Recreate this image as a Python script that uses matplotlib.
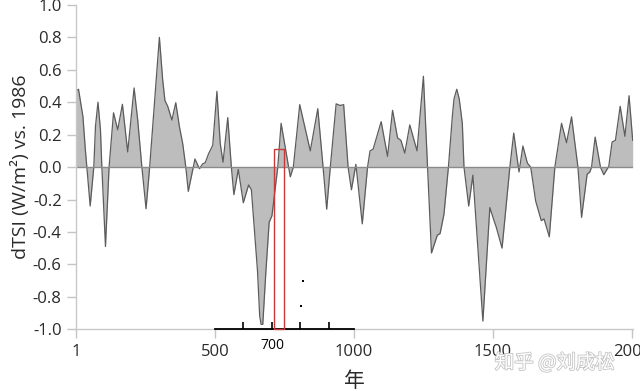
import matplotlib
matplotlib.use('Agg')
import matplotlib.pyplot as plt
import matplotlib.patheffects as pe
from matplotlib.patches import Rectangle

plt.rcParams['font.family'] = ['Open Sans', 'Noto Sans CJK SC', 'DejaVu Sans']

# solar irradiance anomaly (year, W/m2 vs 1986)
years = [1, 9, 25, 33, 39, 51, 64, 70, 79, 88, 93, 106, 119, 135, 150, 167,
         186, 209, 222, 237, 252, 265, 282, 300, 312, 320, 330, 345, 359, 372,
         384, 395, 404, 417, 428, 444, 456, 465, 477, 492, 507, 519, 529, 546,
         559, 568, 584, 602, 621, 631, 641,
         653, 661, 666, 672, 683, 695, 705, 713, 726, 738, 771, 782, 805, 843,
         870, 889, 902, 915, 936, 950, 963, 967, 979, 991, 1007, 1030, 1049,
         1058, 1069, 1098, 1121, 1139, 1157, 1169, 1183, 1201, 1227, 1250, 1265,
         1279, 1300, 1310, 1324, 1340, 1354, 1360, 1370, 1379, 1390, 1396, 1413,
         1428, 1464, 1489, 1504, 1512, 1533, 1561, 1575, 1594, 1608, 1624, 1636,
         1654, 1674, 1684, 1703, 1723, 1747, 1765, 1783, 1806, 1819, 1839, 1849,
         1855, 1868, 1887, 1899, 1917, 1929, 1941, 1958, 1975, 1990, 2003]
dtsi = [0.47, 0.48, 0.31, 0.12, 0.0, -0.24, 0.0, 0.25, 0.40, 0.23, 0.0, -0.49,
        0.0, 0.335, 0.23, 0.387, 0.093, 0.488, 0.29, 0.0, -0.257, 0.0, 0.39,
        0.80, 0.535, 0.41, 0.375, 0.29, 0.397, 0.25, 0.144, 0.0, -0.15, -0.04,
        0.05, -0.01, 0.02, 0.027, 0.082, 0.134, 0.467, 0.144, 0.03, 0.305, 0.0,
        -0.17, -0.015, -0.22, -0.11, -0.14, -0.37, -0.64,
        -0.92, -0.97, -0.97, -0.65, -0.34, -0.30, -0.185, 0.0, 0.27, -0.06, 0.0,
        0.385, 0.10, 0.36, 0.0, -0.26, 0.0, 0.39, 0.38, 0.385, 0.29, 0.0, -0.14,
        0.017, -0.35, 0.0, 0.10, 0.11, 0.28, 0.066, 0.35, 0.18, 0.165, 0.086,
        0.26, 0.10, 0.56, 0.0, -0.53, -0.42, -0.41, -0.29, 0.0, 0.31, 0.42, 0.48,
        0.42, 0.27, 0.0, -0.24, -0.05, -0.95, -0.25, -0.33, -0.37, -0.50, 0.0,
        0.21, -0.03, 0.13, 0.025, 0.0, -0.21, -0.33, -0.32, -0.43, 0.0, 0.27,
        0.15, 0.31, 0.0, -0.31, -0.045, -0.03, 0.0, 0.185, 0.0, -0.047, 0.005,
        0.155, 0.165, 0.375, 0.19, 0.44, 0.165]

xticks = [1, 500, 1000, 1500, 2000]
yticks = [-1.0, -0.8, -0.6, -0.4, -0.2, 0.0, 0.2, 0.4, 0.6, 0.8, 1.0]

# hand drawn overlay: scale bar 500-1000, its ticks, the red box and two specks
scale_span = [500, 1000]
scale_ticks = [600, 704, 807, 911]
box_years = [713, 749]
box_top = 0.114
speck_x = [815, 810]
speck_y = [-0.705, -0.858]

fig = plt.figure(figsize=(6.4, 3.91), dpi=100)
ax = fig.add_axes([0.1192, 0.158, 0.8698, 0.8294])

ax.fill_between(years, dtsi, 0, color='#bdbdbd', lw=0)
ax.plot(years, dtsi, color='#5c5c5c', lw=0.9)
ax.axhline(0, color='#8a8a8a', lw=1)

ax.set_xlim(1, 2004)
ax.set_ylim(-1, 1)
ax.set_xticks(xticks)
ax.set_yticks(yticks)
ax.set_yticklabels(['%.1f' % v for v in yticks])
ax.tick_params(axis='both', color='#c4c4c4', length=6.5, width=1,
               labelsize=12, labelcolor='#2a2a2a', pad=4)
for s in ['top', 'right']:
    ax.spines[s].set_visible(False)
for s in ['left', 'bottom']:
    ax.spines[s].set_color('#c8c8c8')
    ax.spines[s].set_linewidth(1)

ax.set_ylabel('dTSI (W/m²) vs. 1986', fontsize=14, color='#2a2a2a')
ax.yaxis.set_label_coords(-0.083, 0.5)
ax.set_xlabel('年', fontsize=15, color='#2a2a2a')
ax.xaxis.set_label_coords(0.5, -0.13)

# overlay
ax.plot(scale_span, [-1, -1], color='black', lw=1.3, clip_on=False, zorder=5)
ax.vlines(scale_ticks, -1, -0.955, color='black', lw=1.2, clip_on=False, zorder=5)
ax.text(707, -1.10, '700', ha='center', va='center', fontsize=10,
        fontweight='medium', color='black', clip_on=False)
ax.add_patch(Rectangle((box_years[0], -1), box_years[1] - box_years[0], box_top + 1,
                       fill=False, ec='#c8393b', lw=1, clip_on=False, zorder=6))
ax.scatter(speck_x, speck_y, s=0.6, marker='s', color='black', lw=0, zorder=6)

# watermark
fig.text(555 / 640, 1 - 363 / 391, '知乎 @刘成松', ha='center', va='center',
         fontsize=14, color='white', family=['Noto Sans CJK SC'],
         path_effects=[pe.withStroke(linewidth=1.2, foreground='#c4c4c4')])

fig.savefig('out.png', dpi=100)
